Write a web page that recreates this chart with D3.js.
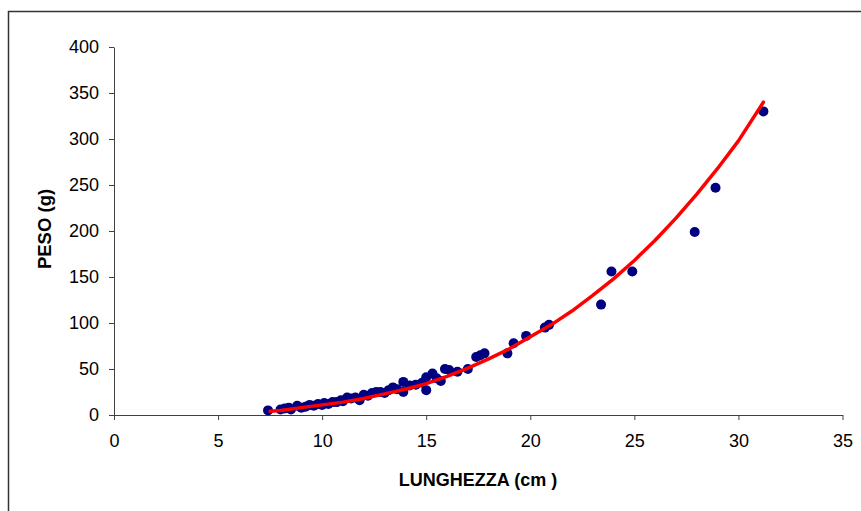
<!DOCTYPE html>
<html><head><meta charset="utf-8">
<script src="https://cdn.jsdelivr.net/npm/d3@7"></script>
<style>body{margin:0;background:#fff}svg{display:block}text{font-family:"Liberation Sans",Arial,sans-serif}</style>
</head><body>
<svg id="c" width="861" height="511"></svg>
<script>
// Observed data: length (cm) and weight (g)
const lengths = [7.4,8.0,8.2,8.4,8.5,8.8,9.0,9.2,9.4,9.6,9.8,10.0,10.1,10.3,10.5,10.7,10.9,11.0,11.2,11.4,11.6,11.8,12.0,12.2,12.4,12.6,12.8,13.0,13.2,13.4,13.6,13.9,13.9,14.2,14.5,14.8,15.0,15.0,15.3,15.5,15.7,15.9,16.1,16.5,17.0,17.4,17.6,17.8,18.9,19.2,19.8,20.7,20.9,23.4,23.9,24.9,27.9,28.9,31.2];
const weights = [5,6,7,8,6,10,8,9,11,10,12,11,13,12,14,14,16,15,19,18,19,16,22,21,24,25,25,24,27,30,28,36,25,32,33,35,27,41,45,40,37,50,49,47,50,63,65,67,67,78,86,95,98,120,156,156,199,247,330];
// Fitted curve values
const fitLengths = [7.5,8,9,10,11,12,13,14,15,16,17,18,19,20,21,22,23,24,25,26,27,28,29,30,31.2];
const fitWeights = [4,5,8,11,14,18,23,28,34,42,51,61,72,85,98,113,130,148,168,190,214,240,268,298,340];
const xTicks = [0,5,10,15,20,25,30,35];
const yTicks = [0,50,100,150,200,250,300,350,400];

const svg = d3.select("#c");
// outer chart frame
svg.append("rect").attr("x",8.5).attr("y",11.5).attr("width",900).attr("height",600)
  .attr("fill","#fff").attr("stroke","#333").attr("stroke-width",1.5);

const x = d3.scaleLinear().domain([0,35]).range([114,842.5]);
const y = d3.scaleLinear().domain([0,400]).range([415,47]);

const xAxis = svg.append("g").attr("transform","translate(0,415)")
  .call(d3.axisBottom(x).tickValues(xTicks).tickSize(5).tickPadding(14).tickSizeOuter(0));
const yAxis = svg.append("g").attr("transform","translate(114,0)")
  .call(d3.axisLeft(y).tickValues(yTicks).tickSize(5).tickPadding(10).tickSizeOuter(0));
[xAxis,yAxis].forEach(a=>{
  a.select(".domain").attr("stroke","#404040");
  a.selectAll(".tick line").attr("stroke","#404040");
  a.selectAll(".tick text").attr("font-size",18).attr("fill","#000")
    .attr("font-family","Liberation Sans, Arial, sans-serif");
});

const pts = lengths.map((l,i)=>({l, w:weights[i]}));
svg.append("g").selectAll("circle").data(pts).join("circle")
  .attr("cx",d=>x(d.l)).attr("cy",d=>y(d.w)).attr("r",5).attr("fill","#000080");

const fit = fitLengths.map((l,i)=>[l,fitWeights[i]]);
svg.append("path").datum(fit)
  .attr("d",d3.line().x(d=>x(d[0])).y(d=>y(d[1])))
  .attr("fill","none").attr("stroke","#ff0000").attr("stroke-width",3.5)
  .attr("stroke-linejoin","round").attr("stroke-linecap","round");

svg.append("text").attr("x",478).attr("y",486).attr("text-anchor","middle")
  .attr("font-size",18).attr("font-weight","bold").text("LUNGHEZZA (cm )");
svg.append("text").attr("transform","translate(51,229) rotate(-90)").attr("text-anchor","middle")
  .attr("font-size",18.5).attr("font-weight","bold").text("PESO (g)");
</script>
</body></html>
